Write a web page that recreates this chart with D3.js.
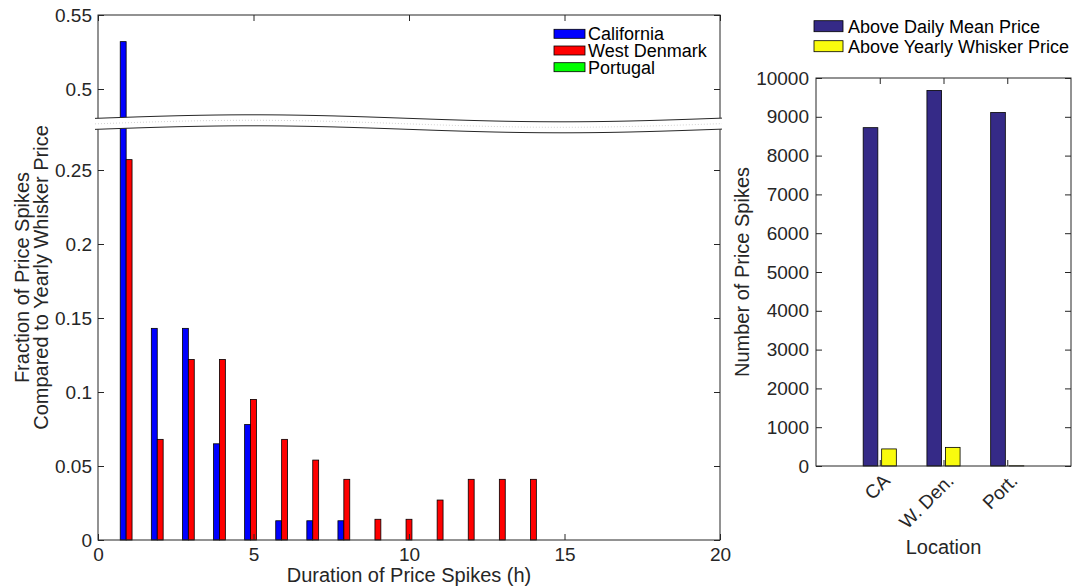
<!DOCTYPE html>
<html>
<head>
<meta charset="utf-8">
<style>
body { margin: 0; background: #fff; }
svg { display: block; font-family: "Liberation Sans", Arial, Helvetica, sans-serif; }
.axis path { display: none; }
.axis line { stroke: #262626; }
.axis text { font-size: 19px; fill: #262626; font-family: "Liberation Sans", Arial, sans-serif; }
.title { font-size: 20px; fill: #262626; }
.legend text { font-size: 18px; fill: #000; }
.frame { fill: none; stroke: #262626; stroke-width: 1; }
</style>
</head>
<body>
<svg width="1073" height="588"></svg>

<script src="https://d3js.org/d3.v7.min.js"></script>
<script>

    // ---- data: left panel (fraction of spikes by duration) ----
    var durations = [1, 2, 3, 4, 5, 6, 7, 8, 9, 10, 11, 12, 13, 14, 15, 16, 17, 18, 19, 20];
    var californiaFrac  = [0.532, 0.143, 0.143, 0.065, 0.078, 0.013, 0.013, 0.013, 0, 0, 0, 0, 0, 0, 0, 0, 0, 0, 0, 0];
    var westDenmarkFrac = [0.257, 0.068, 0.122, 0.122, 0.095, 0.068, 0.054, 0.041, 0.014, 0.014, 0.027, 0.041, 0.041, 0.041, 0, 0, 0, 0, 0, 0];
    var portugalFrac    = [0, 0, 0, 0, 0, 0, 0, 0, 0, 0, 0, 0, 0, 0, 0, 0, 0, 0, 0, 0];
    var regionNames = ["California", "West Denmark", "Portugal"];
    var regionColors = ["#0000ff", "#ff0000", "#00ff00"];
    var leftXTicks = [0, 5, 10, 15, 20];
    var leftYTicks = [0, 0.05, 0.1, 0.15, 0.2, 0.25, 0.5, 0.55];

    // ---- data: right panel (number of spikes by location) ----
    var locations = ["CA", "W. Den.", "Port."];
    var aboveDailyMean = [8720, 9680, 9110];
    var aboveWhisker = [440, 480, 5];
    var spikeNames = ["Above Daily Mean Price", "Above Yearly Whisker Price"];
    var spikeColors = ["#352a87", "#f9fb0e"];
    var rightYTicks = [0, 1000, 2000, 3000, 4000, 5000, 6000, 7000, 8000, 9000, 10000];

    var svg = d3.select("svg");
    var plain = function(d) { return String(d); };

    // ================= left panel =================
    var L = {x0: 98, x1: 720, top: 15, bottom: 540};

    var xL = d3.scaleLinear().domain([0, 20]).range([L.x0, L.x1]);
    // broken y axis: 0..0.28 below the break, 0.48..0.55 above it
    var yL = d3.scaleLinear()
        .domain([0, 0.28, 0.48, 0.55])
        .range([L.bottom, L.bottom - 0.28 * 1480, L.top + 0.07 * 1480, L.top]);

    var leftSeries = [californiaFrac, westDenmarkFrac, portugalFrac];
    var barW = 0.19;

    var leftBars = svg.append("g");
    leftSeries.forEach(function(vals, i) {
        var off = (i - 1) * barW;
        leftBars.selectAll(null)
            .data(durations)
            .enter().append("rect")
            .attr("x", function(d) { return xL(d + off - barW / 2); })
            .attr("width", xL(barW) - xL(0))
            .attr("y", function(d, j) { return yL(vals[j]); })
            .attr("height", function(d, j) { return yL(0) - yL(vals[j]); })
            .attr("fill", regionColors[i])
            .attr("stroke", "#000")
            .attr("stroke-width", 0.8);
    });

    svg.append("rect").attr("class", "frame")
        .attr("x", L.x0).attr("y", L.top)
        .attr("width", L.x1 - L.x0).attr("height", L.bottom - L.top);

    svg.append("g").attr("class", "axis")
        .attr("transform", "translate(0," + L.bottom + ")")
        .call(d3.axisBottom(xL).tickValues(leftXTicks).tickSize(-6).tickPadding(8).tickFormat(plain));
    svg.append("g").attr("class", "axis")
        .attr("transform", "translate(0," + L.top + ")")
        .call(d3.axisTop(xL).tickValues(leftXTicks).tickSize(-6).tickFormat(""));
    svg.append("g").attr("class", "axis")
        .attr("transform", "translate(" + L.x0 + ",0)")
        .call(d3.axisLeft(yL).tickValues(leftYTicks).tickSize(-6).tickPadding(6).tickFormat(plain));
    svg.append("g").attr("class", "axis")
        .attr("transform", "translate(" + L.x1 + ",0)")
        .call(d3.axisRight(yL).tickValues(leftYTicks).tickSize(-6).tickFormat(""));

    // break band (wavy white strip across the axis)
    var waveX = d3.range(L.x0 - 3, L.x1 + 5, 3);
    function waveC(x) { return 123.8 - 3.5 * Math.sin(2 * Math.PI * (x - 97) / 620); }
    svg.append("path")
        .attr("d", d3.area().x(function(x) { return x; })
            .y0(function(x) { return waveC(x) + 5.5; })
            .y1(function(x) { return waveC(x) - 5.5; })(waveX))
        .attr("fill", "#fff");
    [-5.5, 5.5].forEach(function(dy) {
        svg.append("path")
            .attr("d", d3.line().x(function(x) { return x; })
                .y(function(x) { return waveC(x) + dy; })(waveX))
            .attr("fill", "none").attr("stroke", "#262626").attr("stroke-width", 1);
    });
    svg.append("path")
        .attr("d", d3.line().x(function(x) { return x; }).y(waveC)(waveX))
        .attr("fill", "none").attr("stroke", "#c8c8c8").attr("stroke-width", 0.8)
        .attr("stroke-dasharray", "1,2");

    // titles
    svg.append("text").attr("class", "title")
        .attr("x", (L.x0 + L.x1) / 2).attr("y", 582)
        .attr("text-anchor", "middle")
        .text("Duration of Price Spikes (h)");
    svg.append("text").attr("class", "title")
        .attr("transform", "translate(29," + (L.top + L.bottom) / 2 + ") rotate(-90)")
        .attr("text-anchor", "middle")
        .text("Fraction of Price Spikes");
    svg.append("text").attr("class", "title")
        .attr("transform", "translate(48," + (L.top + L.bottom) / 2 + ") rotate(-90)")
        .attr("text-anchor", "middle")
        .text("Compared to Yearly Whisker Price");

    // legend
    var legL = svg.append("g").attr("class", "legend");
    regionNames.forEach(function(name, i) {
        var yy = 29.3 + i * 16.7;
        legL.append("rect").attr("x", 554).attr("y", yy).attr("width", 31).attr("height", 9)
            .attr("fill", regionColors[i]).attr("stroke", "#000").attr("stroke-width", 0.8);
        legL.append("text").attr("x", 588).attr("y", yy + 10.8).text(name);
    });

    // ================= right panel =================
    var R = {x0: 816, x1: 1071, top: 78, bottom: 466};
    var xR = d3.scaleLinear().domain([0, 4]).range([R.x0, R.x1]);
    var yR = d3.scaleLinear().domain([0, 10000]).range([R.bottom, R.top]);
    var locPos = locations.map(function(d, i) { return i + 1; });

    var rightSeries = [aboveDailyMean, aboveWhisker];
    var rBarW = 0.23, rOff = 0.145;
    var rightBars = svg.append("g");
    rightSeries.forEach(function(vals, i) {
        var off = i === 0 ? -rOff : rOff;
        rightBars.selectAll(null)
            .data(locPos)
            .enter().append("rect")
            .attr("x", function(d) { return xR(d + off - rBarW / 2); })
            .attr("width", xR(rBarW) - xR(0))
            .attr("y", function(d, j) { return yR(vals[j]); })
            .attr("height", function(d, j) { return yR(0) - yR(vals[j]); })
            .attr("fill", spikeColors[i])
            .attr("stroke", "#000")
            .attr("stroke-width", 0.8);
    });

    svg.append("rect").attr("class", "frame")
        .attr("x", R.x0).attr("y", R.top)
        .attr("width", R.x1 - R.x0).attr("height", R.bottom - R.top);

    svg.append("g").attr("class", "axis")
        .attr("transform", "translate(" + R.x0 + ",0)")
        .call(d3.axisLeft(yR).tickValues(rightYTicks).tickSize(-6).tickPadding(7).tickFormat(plain));
    svg.append("g").attr("class", "axis")
        .attr("transform", "translate(" + R.x1 + ",0)")
        .call(d3.axisRight(yR).tickValues(rightYTicks).tickSize(-6).tickFormat(""));
    svg.append("g").attr("class", "axis")
        .attr("transform", "translate(0," + R.top + ")")
        .call(d3.axisTop(xR).tickValues(locPos).tickSize(-6).tickFormat(""));
    var xAxR = svg.append("g").attr("class", "axis")
        .attr("transform", "translate(0," + R.bottom + ")")
        .call(d3.axisBottom(xR).tickValues(locPos).tickSize(-6)
            .tickFormat(function(d) { return locations[d - 1]; }));
    xAxR.selectAll("text")
        .attr("x", 0).attr("y", 0).attr("dy", 0)
        .attr("text-anchor", "end")
        .attr("transform", "translate(11,16) rotate(-45)");

    svg.append("text").attr("class", "title")
        .attr("x", (R.x0 + R.x1) / 2).attr("y", 554)
        .attr("text-anchor", "middle")
        .text("Location");
    svg.append("text").attr("class", "title")
        .attr("transform", "translate(749," + (R.top + R.bottom) / 2 + ") rotate(-90)")
        .attr("text-anchor", "middle")
        .text("Number of Price Spikes");

    var legR = svg.append("g").attr("class", "legend");
    spikeNames.forEach(function(name, i) {
        var yy = 20.7 + i * 20;
        legR.append("rect").attr("x", 814).attr("y", yy).attr("width", 29).attr("height", 11)
            .attr("fill", spikeColors[i]).attr("stroke", "#000").attr("stroke-width", 0.8);
        legR.append("text").attr("x", 848).attr("y", yy + 11.8).text(name);
    });
</script>
</body>
</html>
